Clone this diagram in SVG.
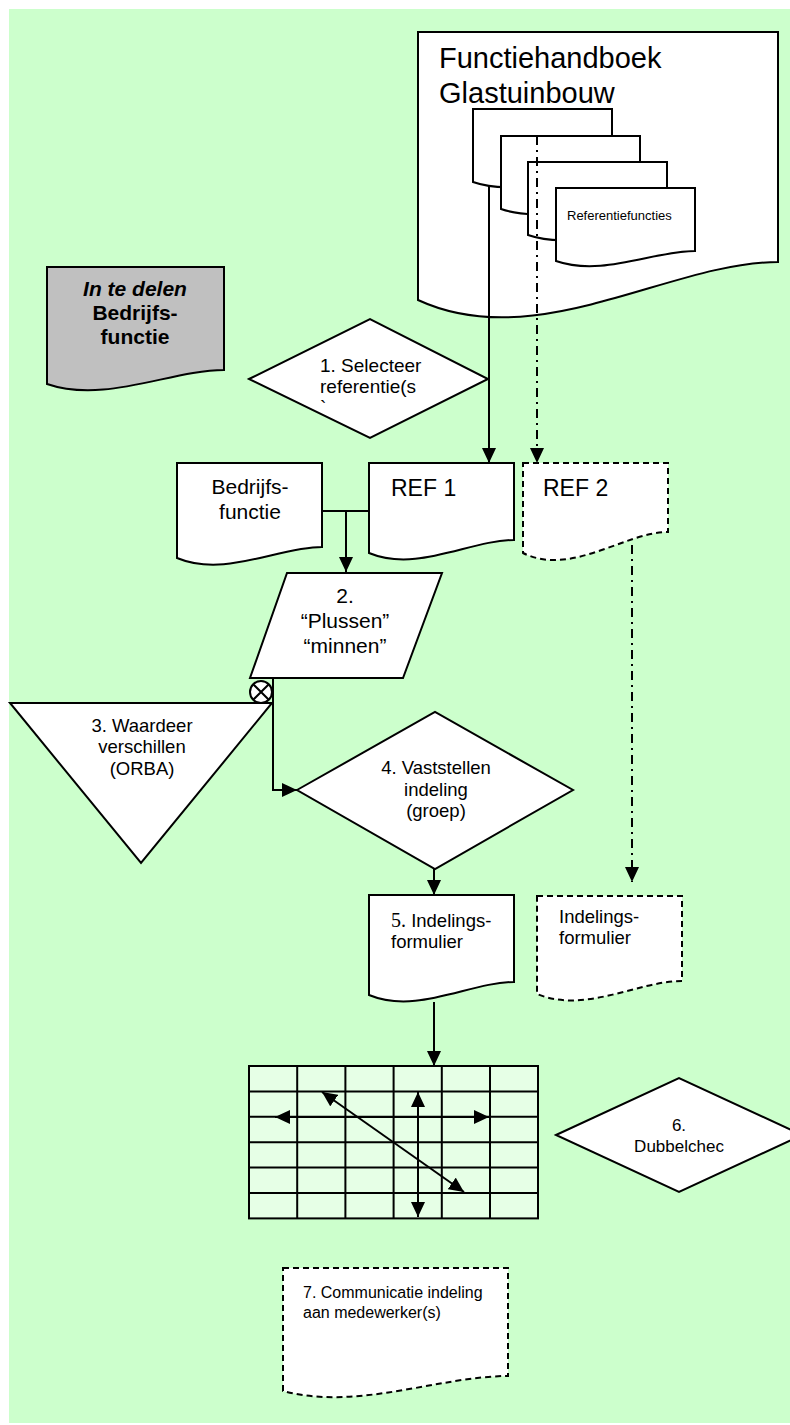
<svg xmlns="http://www.w3.org/2000/svg" width="790" height="1425" viewBox="0 0 790 1425">
<defs>
<style>
.bg{fill:#CCFFCC;stroke:none}
.doc{fill:#FFFFFF;stroke:#000;stroke-width:2}
.dash{fill:#FFFFFF;stroke:#000;stroke-width:2;stroke-dasharray:6 4}
.gray{fill:#C0C0C0;stroke:#000;stroke-width:2}
.grid{fill:#E6FFE6;stroke:#000;stroke-width:2}
.ln{fill:none;stroke:#000;stroke-width:2}
.dd{fill:none;stroke:#000;stroke-width:2;stroke-dasharray:9 5 2 5}
text{font-family:"Liberation Sans",Arial,sans-serif;fill:#000}
.t18{font-size:18.5px}
.t21{font-size:21px}
.mid{text-anchor:middle}
</style>
<marker id="ah" markerUnits="userSpaceOnUse" markerWidth="15" markerHeight="14" refX="15" refY="7" orient="auto-start-reverse" viewBox="0 0 15 14">
<path d="M0,0 L15,7 L0,14 Z" fill="#000"/>
</marker>
</defs>
<rect class="bg" x="9" y="9" width="781" height="1414"/>

<g id="functiehandboek">
<path class="doc" d="M418,32 H778 V262 C670,262 537,355 418,300 Z"/>
<text x="439" y="68" style="font-size:29px">Functiehandboek</text>
<text x="439" y="103" style="font-size:29px">Glastuinbouw</text>
<path class="doc" d="M473,109 H612 V172 C570,172 519,198 473,182 Z"/>
<path class="doc" d="M501,136 H640 V199 C598,199 547,225 501,209 Z"/>
<path class="doc" d="M528,162 H667 V225 C625,225 574,251 528,235 Z"/>
<path class="doc" d="M556,188 H695 V251 C653,251 602,277 556,261 Z"/>
<text x="567" y="220" style="font-size:13px">Referentiefuncties</text>
</g>

<g id="in-te-delen">
<path class="gray" d="M47,267 H224 V370 C171,370 105,404 47,384 Z"/>
<text x="135" y="296" class="mid" style="font-size:21px;font-weight:bold;font-style:italic">In te delen</text>
<text x="135" y="320" class="mid" style="font-size:21px;font-weight:bold">Bedrijfs-</text>
<text x="135" y="344" class="mid" style="font-size:21px;font-weight:bold">functie</text>
</g>

<g id="step1">
<polygon class="doc" points="249,379 370,319 488,379 370,438"/>
<text x="320" y="372" style="font-size:19px">1. Selecteer</text>
<text x="320" y="393" style="font-size:19px">referentie(s</text>
<text x="320" y="414" style="font-size:19px">`</text>
</g>

<g id="bedrijfsfunctie">
<path class="doc" d="M177,463 H322 V547 C278,547 225,578 177,558 Z"/>
<text x="250" y="494" class="mid t21">Bedrijfs-</text>
<text x="250" y="519" class="mid t21">functie</text>
</g>

<g id="ref1">
<path class="doc" d="M369,463 H514 V540 C470,540 417,573 369,553 Z"/>
<text x="391" y="496" style="font-size:23px">REF 1</text>
</g>

<g id="ref2">
<path class="dash" d="M523,463 H668 V532 C625,532 571,577 523,553 Z"/>
<text x="543" y="496" style="font-size:23px">REF 2</text>
</g>

<g id="step2">
<polygon class="doc" points="287,573 442,573 403,678 250,678"/>
<text x="345" y="603" class="mid t21">2.</text>
<text x="345" y="628" class="mid t21">“Plussen”</text>
<text x="345" y="653" class="mid t21">“minnen”</text>
</g>

<g id="step3">
<polygon class="doc" points="10,703 272,703 141,863"/>
<text x="142" y="732" class="mid t18">3. Waardeer</text>
<text x="142" y="753" class="mid t18">verschillen</text>
<text x="142" y="775" class="mid t18">(ORBA)</text>
</g>

<g id="step4">
<polygon class="doc" points="297,790 435,712 573,790 435,869"/>
<text x="436" y="774" class="mid t18">4. Vaststellen</text>
<text x="436" y="796" class="mid t18">indeling</text>
<text x="436" y="817" class="mid t18">(groep)</text>
</g>

<g id="step5">
<path class="doc" d="M369,895 H514 V982 C470,982 417,1015 369,995 Z"/>
<text x="391" y="927" class="t18"><tspan style="font-family:'Liberation Serif','Times New Roman',serif;font-size:20px">5.</tspan> Indelings-</text>
<text x="391" y="948" class="t18">formulier</text>
</g>

<g id="indelingsformulier-2">
<path class="dash" d="M537,896 H682 V981 C638,981 585,1014 537,994 Z"/>
<text x="559" y="923" class="t18">Indelings-</text>
<text x="559" y="944" class="t18">formulier</text>
</g>

<g id="grid">
<rect class="grid" x="249" y="1066" width="289" height="152.4"/>
<path class="ln" d="M297.2,1066 V1218.4 M345.4,1066 V1218.4 M393.6,1066 V1218.4 M441.8,1066 V1218.4 M490,1066 V1218.4 M249,1091.4 H538 M249,1116.8 H538 M249,1142.2 H538 M249,1167.6 H538 M249,1193 H538"/>
<line class="ln" x1="275" y1="1117" x2="489" y2="1117" marker-start="url(#ah)" marker-end="url(#ah)"/>
<line class="ln" x1="418" y1="1092" x2="418" y2="1217" marker-start="url(#ah)" marker-end="url(#ah)"/>
<line class="ln" x1="322" y1="1092" x2="464" y2="1192" marker-start="url(#ah)" marker-end="url(#ah)"/>
</g>

<g id="step6">
<polygon class="doc" points="556,1135 679,1078 802,1135 679,1192"/>
<text x="679" y="1131" class="mid" style="font-size:17px">6.</text>
<text x="679" y="1152" class="mid" style="font-size:17px">Dubbelchec</text>
</g>

<g id="step7">
<path class="dash" d="M283,1268 H508 V1376 C440,1376 357,1411 283,1391 Z"/>
<text x="303" y="1298" style="font-size:16px">7. Communicatie indeling</text>
<text x="303" y="1318" style="font-size:16px">aan medewerker(s)</text>
</g>

<g id="connectors">
<line class="ln" x1="489" y1="186" x2="489" y2="463" marker-end="url(#ah)"/>
<line class="dd" x1="537" y1="136" x2="537" y2="463" marker-end="url(#ah)"/>
<polyline class="ln" points="322,511 369,511"/>
<line class="ln" x1="346" y1="511" x2="346" y2="572" marker-end="url(#ah)"/>
<line class="dd" x1="632" y1="545" x2="632" y2="882" marker-end="url(#ah)"/>
<polyline class="ln" points="273,679 273,790 297,790" marker-end="url(#ah)"/>
<circle cx="261" cy="692" r="11" fill="#FFFFFF" stroke="#000" stroke-width="2"/>
<path class="ln" d="M253.2,684.2 L268.8,699.8 M268.8,684.2 L253.2,699.8"/>
<line class="ln" x1="434" y1="869" x2="434" y2="895" marker-end="url(#ah)"/>
<line class="ln" x1="434" y1="1002" x2="434" y2="1066" marker-end="url(#ah)"/>
</g>
</svg>
